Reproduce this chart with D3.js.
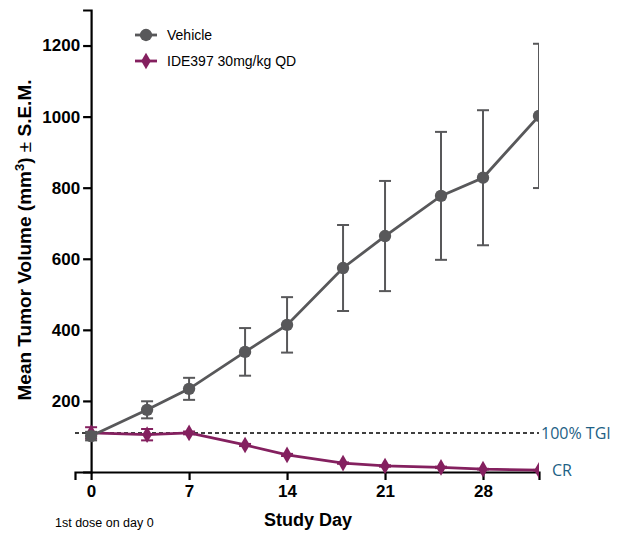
<!DOCTYPE html>
<html>
<head>
<meta charset="utf-8">
<script src="https://cdn.jsdelivr.net/npm/d3@7"></script>
<style>
  body { margin: 0; background: #fff; }
  svg { font-family: "Liberation Sans", Arial, sans-serif; }
</style>
</head>
<body>
<div id="chart"></div>
<script>
// study days and group means / SEM
var days = [0, 4, 7, 11, 14, 18, 21, 25, 28, 32];
var vehicleMean = [101, 175, 234, 338, 414, 574, 664, 777, 828, 1002];
var vehicleSem  = [12, 24, 31, 67, 78, 121, 155, 180, 190, 203];
var ide397Mean  = [110, 105, 110, 76, 48, 25, 17, 13, 8, 5];
var ide397Sem   = [16, 16, 4, 3, 3, 2, 2, 2, 1, 1];
var xTicks = [0, 7, 14, 21, 28];
var yTicks = [200, 400, 600, 800, 1000, 1200];
var tgiLevel = 110;

var width = 621, height = 535;

var xScale = d3.scaleLinear().domain([-1.15, 32]).range([75, 539]);
var yScale = d3.scaleLinear().domain([0, 1300]).range([472, 10]);

var svg = d3.select("#chart").append("svg")
    .attr("width", width)
    .attr("height", height);

svg.append("defs").append("clipPath").attr("id", "plotClip")
    .append("rect")
    .attr("x", 0).attr("y", 0)
    .attr("width", xScale(32)).attr("height", height);

var series = [
    {name: "Vehicle", mean: vehicleMean, sem: vehicleSem, color: "#58585a", shape: d3.symbolCircle, size: 120, cap: 12},
    {name: "IDE397 30mg/kg QD", mean: ide397Mean, sem: ide397Sem, color: "#84205f", shape: d3.symbolDiamond, size: 80, cap: 12}
];

// axes
var xAxis = d3.axisBottom(xScale).tickValues(xTicks).tickFormat(d3.format("d"))
    .tickSizeOuter(0).tickSize(8).tickPadding(5);
var yAxis = d3.axisLeft(yScale).tickValues(yTicks).tickFormat(d3.format("d"))
    .tickSizeOuter(0).tickSize(8).tickPadding(3);

svg.append("g")
    .attr("class", "x axis")
    .attr("transform", "translate(0," + yScale(0) + ")")
    .call(xAxis);

svg.append("g")
    .attr("class", "y axis")
    .attr("transform", "translate(" + xScale(0) + ",0)")
    .call(yAxis);

svg.selectAll("g.axis path, g.axis line")
    .style("stroke", "#000")
    .style("stroke-width", "2.2px");
svg.selectAll("g.axis text")
    .style("fill", "#000")
    .style("font-size", "17px")
    .style("font-weight", "bold");

// dashed 100% TGI line
svg.append("line")
    .attr("x1", xScale(-1.15)).attr("x2", xScale(32))
    .attr("y1", yScale(tgiLevel)).attr("y2", yScale(tgiLevel))
    .style("stroke", "#000")
    .style("stroke-width", "1.5px")
    .style("stroke-dasharray", "4,3");

var plot = svg.append("g").attr("clip-path", "url(#plotClip)");

// draw vehicle last so it sits on top at day 0
series.slice().reverse().forEach(function(s) {
    var g = plot.append("g").attr("class", "series");
    var pts = days.map(function(d, i) { return {day: d, mean: s.mean[i], sem: s.sem[i]}; });

    var bars = g.selectAll("g.err").data(pts).enter().append("g").attr("class", "err");
    bars.append("line")
        .attr("x1", function(d) { return xScale(d.day); })
        .attr("x2", function(d) { return xScale(d.day); })
        .attr("y1", function(d) { return yScale(d.mean + d.sem); })
        .attr("y2", function(d) { return yScale(Math.max(0, d.mean - d.sem)); });
    bars.append("line")
        .attr("x1", function(d) { return xScale(d.day) - s.cap / 2; })
        .attr("x2", function(d) { return xScale(d.day) + s.cap / 2; })
        .attr("y1", function(d) { return yScale(d.mean + d.sem); })
        .attr("y2", function(d) { return yScale(d.mean + d.sem); });
    bars.append("line")
        .attr("x1", function(d) { return xScale(d.day) - s.cap / 2; })
        .attr("x2", function(d) { return xScale(d.day) + s.cap / 2; })
        .attr("y1", function(d) { return yScale(Math.max(0, d.mean - d.sem)); })
        .attr("y2", function(d) { return yScale(Math.max(0, d.mean - d.sem)); });
    bars.selectAll("line")
        .style("stroke", s.color)
        .style("stroke-width", "2px");

    var line = d3.line()
        .x(function(d) { return xScale(d.day); })
        .y(function(d) { return yScale(d.mean); });
    g.append("path")
        .datum(pts)
        .attr("d", line)
        .style("fill", "none")
        .style("stroke", s.color)
        .style("stroke-width", "2.8px");

    g.selectAll("path.pt").data(pts).enter().append("path")
        .attr("class", "pt")
        .attr("d", d3.symbol().type(s.shape).size(s.size))
        .attr("transform", function(d) {
            return "translate(" + xScale(d.day) + "," + yScale(d.mean) + ")";
        })
        .style("fill", s.color);
});

// legend
var legend = svg.append("g").attr("class", "legend").attr("transform", "translate(135,35)");
series.forEach(function(s, i) {
    var row = legend.append("g").attr("transform", "translate(0," + (i * 26) + ")");
    row.append("line")
        .attr("x1", 0).attr("x2", 22)
        .style("stroke", s.color)
        .style("stroke-width", "2.8px");
    row.append("path")
        .attr("d", d3.symbol().type(s.shape).size(s.size))
        .attr("transform", "translate(11,0)")
        .style("fill", s.color);
    row.append("text")
        .attr("x", 32).attr("dy", "0.35em")
        .style("font-size", "14px")
        .style("fill", "#000")
        .text(s.name);
});

// annotations
svg.append("text")
    .attr("x", 541).attr("y", yScale(tgiLevel)).attr("dy", "0.35em")
    .style("font-family", "'Open Sans', 'Noto Sans', sans-serif")
    .style("font-size", "16px")
    .style("fill", "#1d5f85")
    .text("100% TGI");
svg.append("text")
    .attr("x", 552).attr("y", yScale(5)).attr("dy", "0.35em")
    .style("font-family", "'Open Sans', 'Noto Sans', sans-serif")
    .style("font-size", "16px")
    .style("fill", "#1d5f85")
    .text("CR");

svg.append("text")
    .attr("x", xScale(15.5)).attr("y", 526)
    .attr("text-anchor", "middle")
    .style("font-size", "18px")
    .style("font-weight", "bold")
    .text("Study Day");

svg.append("text")
    .attr("x", 55).attr("y", 527)
    .style("font-size", "12.5px")
    .text("1st dose on day 0");

var ylab = svg.append("text")
    .attr("transform", "translate(31,240) rotate(-90)")
    .attr("text-anchor", "middle")
    .style("font-size", "19px")
    .style("font-weight", "bold");
ylab.append("tspan").text("Mean Tumor Volume (mm");
ylab.append("tspan").attr("baseline-shift", "super").style("font-size", "13px").text("3");
ylab.append("tspan").text(") ");
ylab.append("tspan").style("font-weight", "normal").text("±");
ylab.append("tspan").text(" S.E.M.");
</script>
</body>
</html>
